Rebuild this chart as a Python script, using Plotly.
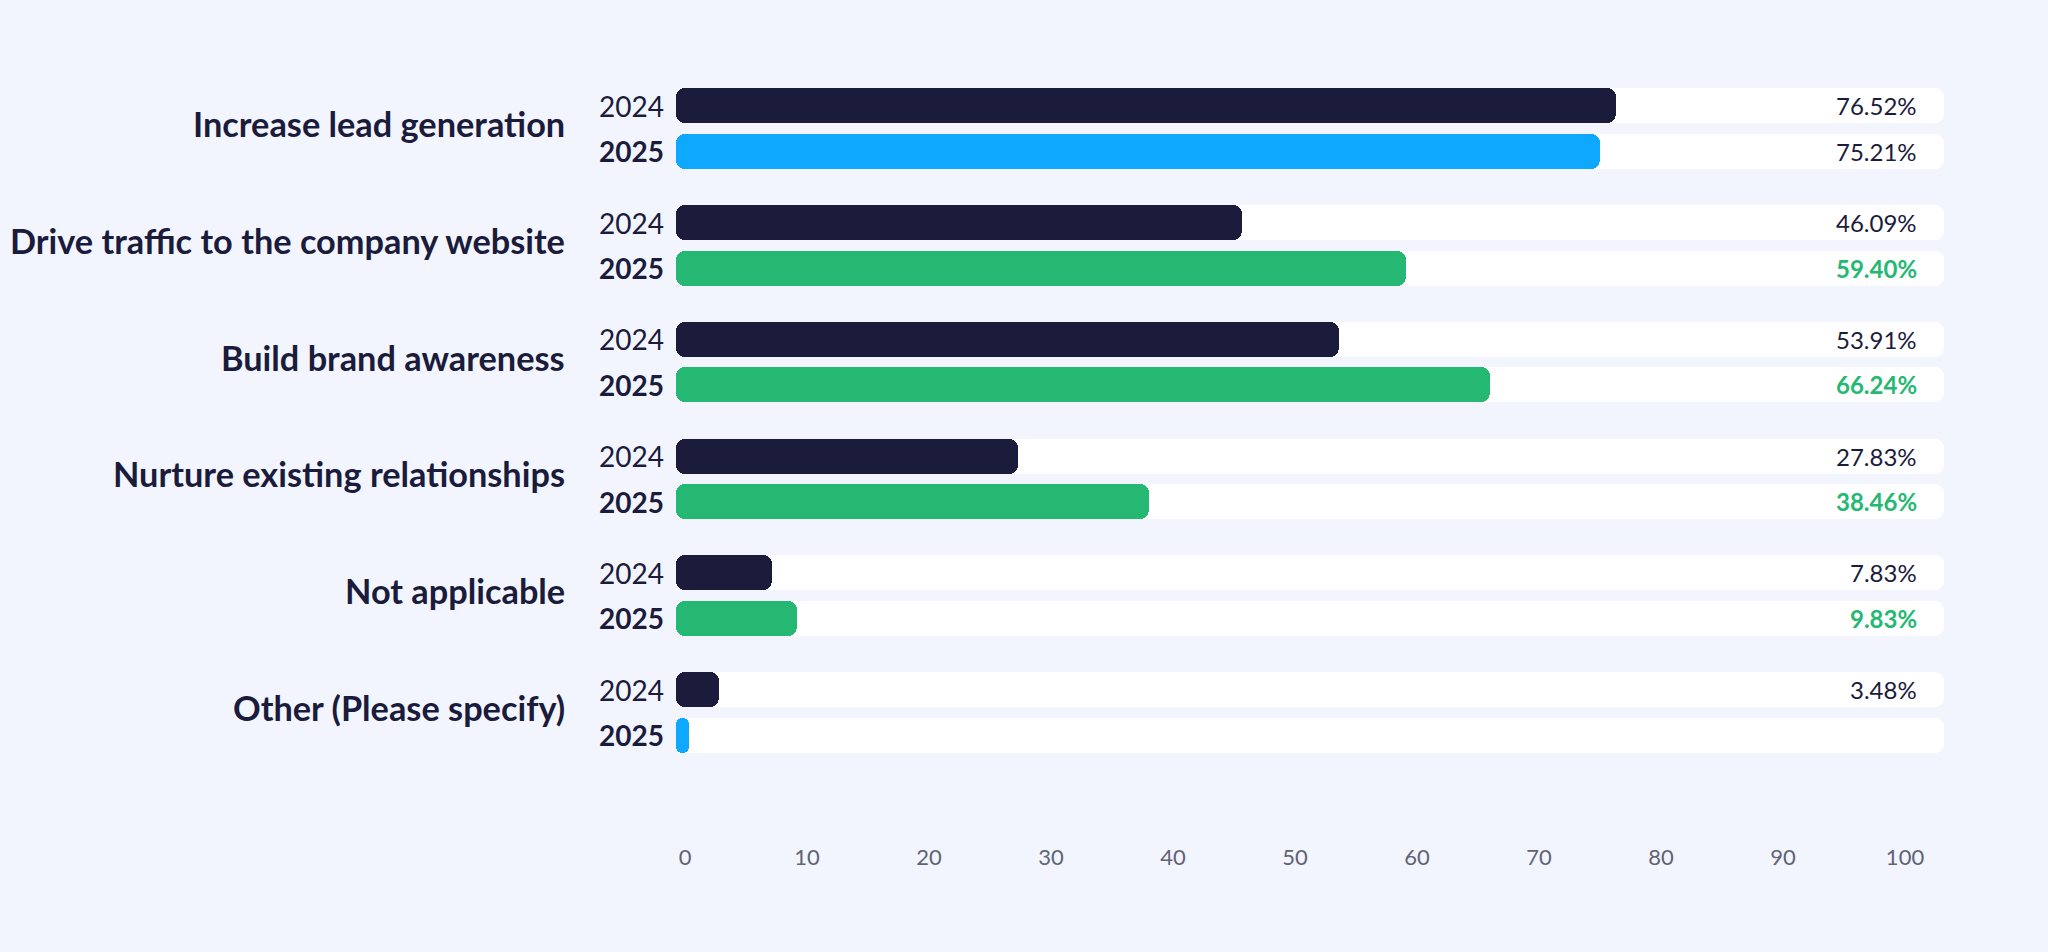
import plotly.graph_objects as go

# ---- data ----
CATEGORIES = [
    "Increase lead generation",
    "Drive traffic to the company website",
    "Build brand awareness",
    "Nurture existing relationships",
    "Not applicable",
    "Other (Please specify)",
]
YEARS = ["2024", "2025"]
VALUES_2024 = [76.52, 46.09, 53.91, 27.83, 7.83, 3.48]
VALUES_2025 = [75.21, 59.40, 66.24, 38.46, 9.83, 0.0]
X_TICKS = [0, 10, 20, 30, 40, 50, 60, 70, 80, 90, 100]

# ---- style ----
BG = "#f2f5fe"
TRACK = "#ffffff"
DARK = "#1b1b3b"
BLUE = "#0fa8ff"
GREEN = "#25b873"
TICK_GRAY = "#5f6373"
FONT = "Lato"

GROUP_PITCH = 2.567
BAR_W = 0.77
TRACK_END = 103.13
MIN_LEN = 1.07     # minimum visible pill length
LABEL_X = 101.14

n = len(CATEGORIES)
y24 = [g * GROUP_PITCH for g in range(n)]
y25 = [g * GROUP_PITCH + 1 for g in range(n)]

increased = [b > a for a, b in zip(VALUES_2024, VALUES_2025)]
col25 = [GREEN if inc else BLUE for inc in increased]

fig = go.Figure()

# white tracks
fig.add_trace(go.Bar(
    y=y24 + y25, x=[TRACK_END] * (2 * n), base=[0] * (2 * n),
    orientation="h", width=BAR_W,
    marker=dict(color=TRACK, cornerradius=9, line=dict(width=0)),
    hoverinfo="skip", showlegend=False,
))
# 2024 bars
fig.add_trace(go.Bar(
    y=y24, x=[max(v, MIN_LEN) for v in VALUES_2024], base=[0] * n,
    orientation="h", width=BAR_W, name="2024",
    marker=dict(color=DARK, cornerradius=9, line=dict(width=0)),
    customdata=VALUES_2024, hovertemplate="2024: %{customdata:.2f}%<extra></extra>",
    showlegend=False,
))
# 2025 bars
fig.add_trace(go.Bar(
    y=y25, x=[max(v, MIN_LEN) for v in VALUES_2025], base=[0] * n,
    orientation="h", width=BAR_W, name="2025",
    marker=dict(color=col25, cornerradius=9, line=dict(width=0)),
    customdata=VALUES_2025, hovertemplate="2025: %{customdata:.2f}%<extra></extra>",
    showlegend=False,
))
# invisible carrier for the tick-label axis
fig.add_trace(go.Scatter(
    x=[X_TICKS[0], X_TICKS[-1]], y=[y24[0], y24[0]], xaxis="x2", yaxis="y",
    mode="markers", marker=dict(opacity=0), hoverinfo="skip", showlegend=False,
))

ann = []
for g, cat in enumerate(CATEGORIES):
    ann.append(dict(
        x=0, xref="paper", y=(y24[g] + y25[g]) / 2, yref="y",
        text=f"<b>{cat}</b>", showarrow=False, xanchor="right", yanchor="middle",
        xshift=-103, yshift=5, font=dict(family=FONT, size=34.3, color=DARK),
    ))
    ann.append(dict(
        x=0, xref="paper", y=y24[g], yref="y", text=YEARS[0], showarrow=False,
        xanchor="right", yanchor="middle", xshift=-4,
        font=dict(family=FONT, size=28, color=DARK),
    ))
    ann.append(dict(
        x=0, xref="paper", y=y25[g], yref="y", text=f"<b>{YEARS[1]}</b>", showarrow=False,
        xanchor="right", yanchor="middle", xshift=-4,
        font=dict(family=FONT, size=28, color=DARK),
    ))
    ann.append(dict(
        x=LABEL_X, xref="x", y=y24[g], yref="y", text=f"{VALUES_2024[g]:.2f}%",
        showarrow=False, xanchor="right", yanchor="middle",
        font=dict(family=FONT, size=24, color=DARK),
    ))
    if VALUES_2025[g] > 0:
        if increased[g]:
            txt, c = f"<b>{VALUES_2025[g]:.2f}%</b>", GREEN
        else:
            txt, c = f"{VALUES_2025[g]:.2f}%", DARK
        ann.append(dict(
            x=LABEL_X, xref="x", y=y25[g], yref="y", text=txt,
            showarrow=False, xanchor="right", yanchor="middle",
            font=dict(family=FONT, size=24, color=c),
        ))

fig.update_layout(
    width=2048, height=952,
    paper_bgcolor=BG, plot_bgcolor=BG,
    margin=dict(l=670, r=102, t=74, b=112),
    barmode="overlay", bargap=0,
    annotations=ann,
    xaxis=dict(range=[-0.488, 103.33], showticklabels=False, showgrid=False,
               zeroline=False, showline=False, ticks="", fixedrange=True),
    xaxis2=dict(range=[-1.23, 103.36], overlaying="x", side="bottom", anchor="y",
                tickvals=X_TICKS, showgrid=False, zeroline=False, showline=False,
                ticks="", fixedrange=True, ticklabelstandoff=2,
                tickfont=dict(family=FONT, size=22, color=TICK_GRAY)),
    yaxis=dict(range=[16.14, -0.7], showticklabels=False, showgrid=False,
               zeroline=False, showline=False, ticks="", fixedrange=True),
    font=dict(family=FONT),
)

fig.write_html(
    "out.html",
    config={"displayModeBar": False},
    post_script=(
        "document.body.style.margin='0';"
        "document.body.style.background='" + BG + "';"
        "document.documentElement.style.background='" + BG + "';"
    ),
)
